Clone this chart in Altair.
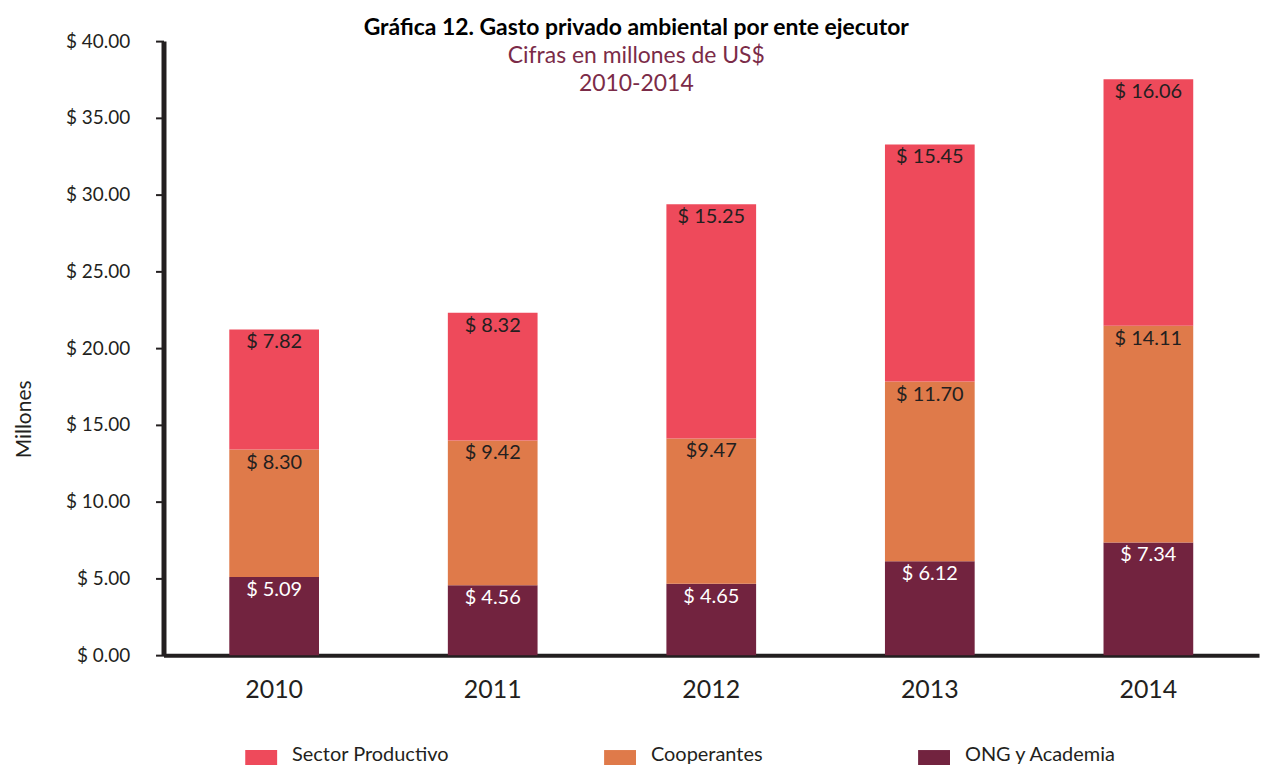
import altair as alt
import pandas as pd

years = ["2010", "2011", "2012", "2013", "2014"]
series = ["ONG y Academia", "Cooperantes", "Sector Productivo"]
ong = [5.09, 4.56, 4.65, 6.12, 7.34]
coop = [8.30, 9.42, 9.47, 11.70, 14.11]
sector = [7.82, 8.32, 15.25, 15.45, 16.06]
ong_labels = ["$ 5.09", "$ 4.56", "$ 4.65", "$ 6.12", "$ 7.34"]
coop_labels = ["$ 8.30", "$ 9.42", "$9.47", "$ 11.70", "$ 14.11"]
sector_labels = ["$ 7.82", "$ 8.32", "$ 15.25", "$ 15.45", "$ 16.06"]
legend_order = ["Sector Productivo", "Cooperantes", "ONG y Academia"]
colors = ["#EE4A5B", "#DF7A4A", "#72233F"]
y_ticks = [0, 5, 10, 15, 20, 25, 30, 35, 40]

rows = []
for vals, labs, name, o in [(ong, ong_labels, series[0], 0),
                            (coop, coop_labels, series[1], 1),
                            (sector, sector_labels, series[2], 2)]:
    for y, v, l in zip(years, vals, labs):
        rows.append({"year": y, "value": v, "label": l, "serie": name, "ord": o})
df = pd.DataFrame(rows)

FONT = "Lato"
DARK = "#231F20"

base = alt.Chart(df).transform_stack(
    stack="value", groupby=["year"], sort=[alt.SortField("ord")], as_=["y0", "y1"]
)

x_enc = alt.X(
    "year:N",
    scale=alt.Scale(paddingInner=0.5895, paddingOuter=0.301),
    axis=alt.Axis(
        title=None, labelAngle=0, labelFontSize=25, labelFont=FONT, labelColor=DARK,
        labelPadding=22, ticks=False, domainWidth=4, domainColor=DARK, grid=False,
    ),
)

bars = base.mark_bar().encode(
    x=x_enc,
    y=alt.Y(
        "y0:Q",
        scale=alt.Scale(domain=[0, 40], nice=False),
        axis=alt.Axis(
            title="Millones", titleFont=FONT, titleFontSize=21, titleFontWeight="normal",
            titleColor=DARK, titlePadding=31, titleY=379,
            values=y_ticks,
            labelExpr="datum.value < 10 ? '$  ' + format(datum.value, '.2f') : '$ ' + format(datum.value, '.2f')",
            labelFont=FONT, labelFontSize=19, labelColor=DARK, labelPadding=26,
            tickSize=8, tickWidth=2, tickColor=DARK,
            domainWidth=5, domainColor=DARK, grid=False,
        ),
    ),
    y2="y1:Q",
    color=alt.Color(
        "serie:N",
        scale=alt.Scale(domain=legend_order, range=colors),
        legend=alt.Legend(
            title=None, orient="none", direction="horizontal", legendX=82, legendY=700,
            symbolType="M-1,-0.3H1V0.7H-1Z", symbolSize=1024, symbolStrokeWidth=0,
            symbolOpacity=1,
            labelFont=FONT, labelFontSize=20, labelColor=DARK, labelOffset=15,
            columnPadding=155, gridAlign="none",
        ),
    ),
)

texts = base.mark_text(font=FONT, fontSize=20, baseline="middle", dy=13).encode(
    x=alt.X("year:N"),
    y=alt.Y("y1:Q"),
    text="label:N",
    color=alt.condition(alt.datum.serie == "ONG y Academia", alt.value("white"), alt.value(DARK)),
)

chart = alt.layer(bars, texts).properties(
    width=1099,
    height=616,
    padding={"left": 5, "top": 8, "right": 5, "bottom": 0},
    title=alt.TitleParams(
        text="Gráfica 12. Gasto privado ambiental por ente ejecutor",
        subtitle=["Cifras en millones de US$", "2010-2014"],
        font=FONT, fontSize=23, fontWeight="bold", color="#000000",
        subtitleFont=FONT, subtitleFontSize=23, subtitleColor="#7B2B48",
        subtitleLineHeight=28, subtitlePadding=5,
        anchor="middle", frame="bounds", offset=-64,
    ),
).configure_view(stroke=None)

chart.save("out.html", embed_options={"renderer": "svg", "actions": False})
